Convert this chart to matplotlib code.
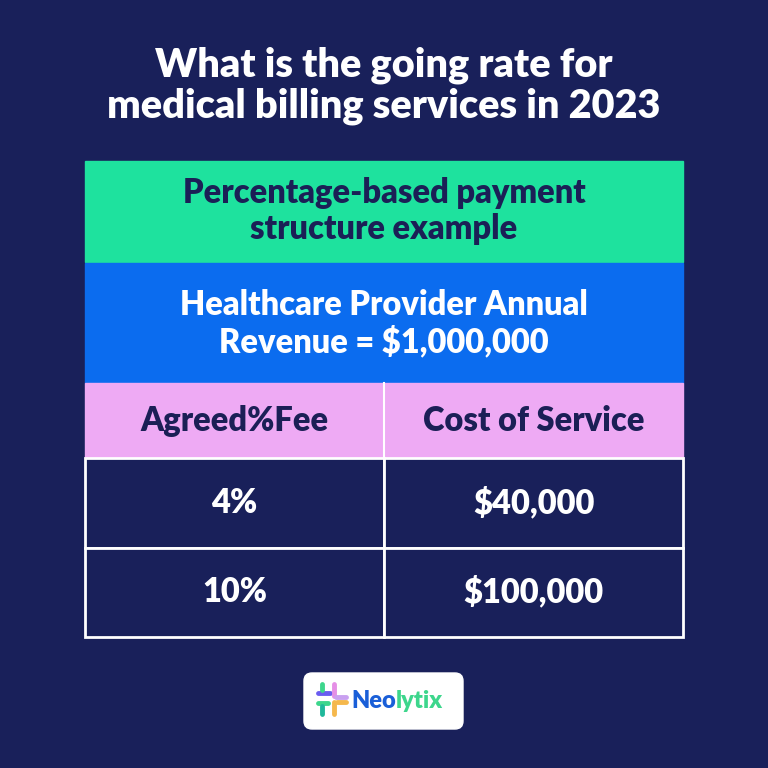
import matplotlib
matplotlib.use("Agg")
import matplotlib.pyplot as plt
from matplotlib.patches import Rectangle, FancyBboxPatch

title_lines = ["What is the going rate for", "medical billing services in 2023"]
header1 = ["Percentage-based payment", "structure example"]
header2 = ["Healthcare Provider Annual", "Revenue = $1,000,000"]
columns = ["Agreed%Fee", "Cost of Service"]
fees = ["4%", "10%"]
costs = ["$40,000", "$100,000"]

BG = "#19205a"
GREEN = "#1ee29e"
BLUE = "#0b6cef"
PINK = "#eeaaf4"
DARK = "#1b1f56"
FONT = "Lato"
TS = 28.5
BS = 23.5

fig = plt.figure(figsize=(7.68, 7.68), dpi=100)
fig.patch.set_facecolor(BG)
ax = fig.add_axes([0, 0, 1, 1])
ax.set_xlim(0, 768); ax.set_ylim(768, 0); ax.axis("off")

ax.text(384, 65, title_lines[0], ha="center", va="center", color="white", fontsize=TS, fontweight="heavy", family=FONT)
ax.text(384, 106, title_lines[1], ha="center", va="center", color="white", fontsize=TS, fontweight="heavy", family=FONT)

L, R, M = 85, 683, 384
ax.add_patch(Rectangle((L, 161), R-L, 101, color=GREEN))
ax.text(384, 193, header1[0], ha="center", va="center", color=DARK, fontsize=BS, fontweight="heavy", family=FONT)
ax.text(384, 229, header1[1], ha="center", va="center", color=DARK, fontsize=BS, fontweight="heavy", family=FONT)
ax.add_patch(Rectangle((L, 263), R-L, 120, color=BLUE))
ax.text(384, 305, header2[0], ha="center", va="center", color="white", fontsize=BS, fontweight="heavy", family=FONT)
ax.text(384, 342, header2[1], ha="center", va="center", color="white", fontsize=BS, fontweight="heavy", family=FONT)
ax.add_patch(Rectangle((L, 383), R-L, 75, color=PINK))
ax.plot([M, M], [383, 458], color="white", lw=1.5)
ax.text((L+M)/2, 421, columns[0], ha="center", va="center", color=DARK, fontsize=BS, fontweight="heavy", family=FONT)
ax.text((M+R)/2, 421, columns[1], ha="center", va="center", color=DARK, fontsize=BS, fontweight="heavy", family=FONT)

rows_y = [(458, 548), (548, 637)]
for (y0, y1), f, c in zip(rows_y, fees, costs):
    for x0, x1 in [(L, M), (M, R)]:
        ax.add_patch(Rectangle((x0, y0), x1-x0, y1-y0, facecolor=BG, edgecolor="white", lw=2))
    ym = (y0+y1)/2
    ax.text((L+M)/2, ym, f, ha="center", va="center", color="white", fontsize=BS, fontweight="heavy", family=FONT)
    ax.text((M+R)/2, ym, c, ha="center", va="center", color="white", fontsize=BS, fontweight="heavy", family=FONT)

# logo
ax.add_patch(FancyBboxPatch((304, 673), 159, 56, boxstyle="round,pad=0,rounding_size=8", color="white"))
for (x0, y0, x1, y1, col) in [(318, 693, 330, 693, "#6a5cf0"), (322, 684, 322, 690, "#3dd68c"),
                               (334, 684, 334, 696, "#e58fe6"), (336, 697, 346, 697, "#c9a0f0"),
                               (318, 703, 328, 703, "#3dd68c"), (322, 706, 322, 714, "#1fb89a"),
                               (334, 702, 334, 714, "#f5b84c"), (337, 702, 346, 702, "#f5b84c")]:
    ax.plot([x0, x1], [y0, y1], color=col, lw=3.5, solid_capstyle="round")
t1 = ax.text(351, 701, "Neo", ha="left", va="center", color="#1a5fd8", fontsize=17, fontweight="heavy", family=FONT)
fig.canvas.draw()
bb = t1.get_window_extent()
x_end = ax.transData.inverted().transform((bb.x1, bb.y0))[0]
ax.text(x_end, 701, "lytix", ha="left", va="center", color="#3dd68c", fontsize=17, fontweight="heavy", family=FONT)

fig.savefig("out.png", dpi=100, facecolor=BG)
